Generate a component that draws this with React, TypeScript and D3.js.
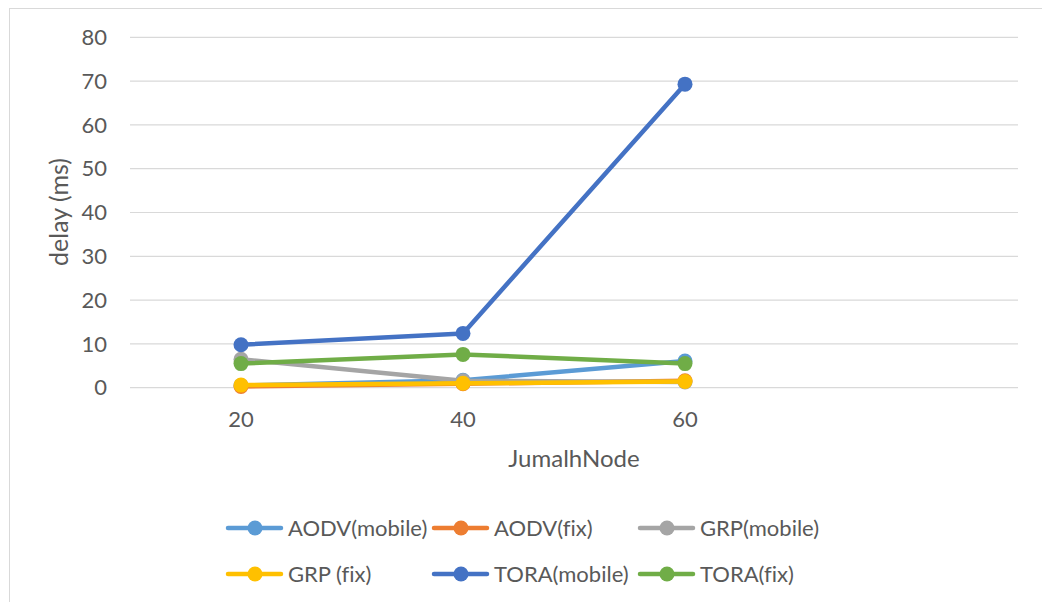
import React from "react";
import * as d3 from "d3";

const categories = ["20", "40", "60", ""];
const yTicks = [0, 10, 20, 30, 40, 50, 60, 70, 80];

const seriesNames = ["AODV(mobile)", "AODV(fix)", "GRP(mobile)", "GRP (fix)", "TORA(mobile)", "TORA(fix)"];
const seriesColors = ["#5B9BD5", "#ED7D31", "#A5A5A5", "#FFC000", "#4472C4", "#70AD47"];

const aodvMobile = [0.5, 1.7, 6.1];
const aodvFix = [0.3, 0.9, 1.6];
const grpMobile = [6.5, 1.6, 1.3];
const grpFix = [0.6, 1.0, 1.4];
const toraMobile = [9.8, 12.4, 69.3];
const toraFix = [5.5, 7.6, 5.5];

const seriesValues = [aodvMobile, aodvFix, grpMobile, grpFix, toraMobile, toraFix];

const W = 1042;
const H = 602;
const plot = { left: 130, right: 1018, top: 37.3, bottom: 387.7 };
const FONT = "Lato, 'Open Sans', sans-serif";
const TEXT = "#595959";
const GRID = "#D9D9D9";

// legend slots: line start x per column, center y per row
const legendCols = [228, 434, 640];
const legendRows = [528, 574];

export default function App() {
  const x = d3
    .scalePoint<string>()
    .domain(categories)
    .range([plot.left, plot.right])
    .padding(0.5);
  const y = d3.scaleLinear().domain([0, 80]).range([plot.bottom, plot.top]);
  const line = d3
    .line<number>()
    .x((_, i) => x(categories[i]) as number)
    .y((v) => y(v));

  return (
    <div style={{ position: "fixed", left: 0, top: 0, width: W, height: H, background: "#fff" }}>
      <svg width={W} height={H} style={{ display: "block", fontVariantLigatures: "none" }}>
        <rect x={9.5} y={8.5} width={W + 20} height={H + 20} fill="#fff" stroke={GRID} strokeWidth={1} />

        {yTicks.map((t) => (
          <g key={t}>
            <line x1={plot.left} x2={plot.right} y1={y(t)} y2={y(t)} stroke={GRID} strokeWidth={1.2} />
            <text
              x={107}
              y={y(t)}
              dy="0.35em"
              textAnchor="end"
              fontFamily={FONT}
              fontSize={22}
              fill={TEXT}
            >
              {t}
            </text>
          </g>
        ))}

        {categories.map((c) =>
          c ? (
            <text
              key={c}
              x={x(c)}
              y={427}
              textAnchor="middle"
              fontFamily={FONT}
              fontSize={22}
              fill={TEXT}
            >
              {c}
            </text>
          ) : null
        )}

        <text x={(plot.left + plot.right) / 2} y={467} textAnchor="middle" fontFamily={FONT} fontSize={24} fill={TEXT}>
          JumalhNode
        </text>
        <text
          transform={`translate(68, 212) rotate(-90)`}
          textAnchor="middle"
          fontFamily={FONT}
          fontSize={25}
          fill={TEXT}
        >
          delay (ms)
        </text>

        {seriesValues.map((vals, si) => (
          <g key={seriesNames[si]}>
            <path
              d={line(vals) as string}
              fill="none"
              stroke={seriesColors[si]}
              strokeWidth={4.5}
              strokeLinejoin="round"
              strokeLinecap="round"
            />
            {vals.map((v, i) => (
              <circle key={i} cx={x(categories[i])} cy={y(v)} r={7.5} fill={seriesColors[si]} />
            ))}
          </g>
        ))}

        {seriesNames.map((name, si) => {
          const lx = legendCols[si % 3];
          const ly = legendRows[Math.floor(si / 3)];
          return (
            <g key={name}>
              <line x1={lx} x2={lx + 53} y1={ly} y2={ly} stroke={seriesColors[si]} strokeWidth={4.5} strokeLinecap="round" />
              <circle cx={lx + 27} cy={ly} r={7.5} fill={seriesColors[si]} />
              <text x={lx + 60} y={ly} dy="0.35em" fontFamily={FONT} fontSize={22} fill={TEXT}>
                {name}
              </text>
            </g>
          );
        })}
      </svg>
    </div>
  );
}
